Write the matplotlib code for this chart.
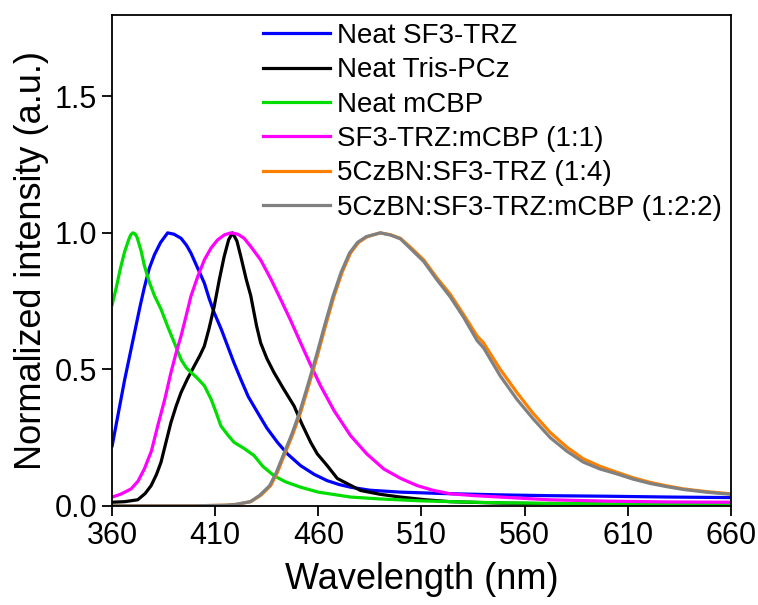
"""Normalized PL spectra of neat films and blends (recreated from figure)."""
import matplotlib
matplotlib.use("Agg")
import matplotlib.pyplot as plt

plt.rcParams["font.family"] = ["Liberation Sans", "DejaVu Sans"]

# --- data (wavelength nm, normalized intensity) ---
sf3_wl = [360, 363, 366, 368.5, 371, 373.5, 375.6, 378, 380.5, 383.5, 386.9, 390,
          393.4, 396, 398.2, 401.5, 404.7, 407, 409.5, 413, 416, 419, 422.4, 426,
          430.5, 435, 440.2, 445, 451.4, 458, 464.3, 470, 475.6, 485, 499.8, 520,
          548, 572, 600, 630, 660]
sf3_int = [0.22, 0.34, 0.46, 0.55, 0.64, 0.73, 0.80, 0.87, 0.92, 0.965, 1.0, 0.995,
           0.98, 0.955, 0.926, 0.87, 0.816, 0.76, 0.707, 0.645, 0.585, 0.525, 0.463,
           0.40, 0.342, 0.285, 0.232, 0.19, 0.147, 0.115, 0.092, 0.078, 0.068, 0.057,
           0.05, 0.045, 0.04, 0.037, 0.035, 0.032, 0.03]

tris_wl = [360, 366, 372.4, 376, 378.9, 381.5, 383.7, 386, 388.5, 391, 393.4, 396.5,
           399.8, 402.5, 404.7, 407, 409.5, 412, 414.3, 416.5, 418.4, 420.5, 422.4,
           425, 427.2, 430, 432, 435, 438.5, 443, 448.2, 452, 456.3, 459.5, 464.3,
           469.2, 475.6, 480.5, 490, 499.8, 512, 524, 548, 580, 620, 660]
tris_int = [0.013, 0.015, 0.022, 0.045, 0.074, 0.115, 0.16, 0.23, 0.305, 0.365, 0.415,
            0.465, 0.512, 0.55, 0.585, 0.65, 0.731, 0.83, 0.913, 0.975, 1.0, 0.97,
            0.913, 0.83, 0.77, 0.66, 0.597, 0.54, 0.488, 0.43, 0.366, 0.30, 0.232,
            0.19, 0.147, 0.10, 0.075, 0.056, 0.042, 0.032, 0.022, 0.015, 0.01,
            0.007, 0.005, 0.004]

mcbp_wl = [360, 362, 364, 366, 368, 369, 370, 371, 372, 374, 375.6, 378, 380.5, 383.7,
           387, 390, 393.4, 396, 398.2, 401, 404.7, 408, 410.5, 412.7, 416, 419.2, 424,
           428.8, 433, 438.5, 444, 451.4, 460, 475.6, 490, 510, 540, 570, 600, 630, 660]
mcbp_int = [0.737, 0.80, 0.87, 0.93, 0.975, 0.993, 1.0, 0.997, 0.985, 0.935, 0.88, 0.82,
            0.77, 0.72, 0.655, 0.60, 0.536, 0.505, 0.489, 0.47, 0.44, 0.39, 0.34, 0.293,
            0.26, 0.232, 0.21, 0.184, 0.145, 0.11, 0.088, 0.068, 0.05, 0.032, 0.025,
            0.018, 0.012, 0.009, 0.007, 0.006, 0.005]

blend_wl = [360, 364, 369.2, 372.5, 375.6, 379, 382.1, 385.5, 388.5, 391, 393.4, 396,
            398.2, 401.5, 404.7, 408, 411.1, 414.5, 417.6, 421, 424, 427.2, 432, 437,
            441.8, 446.5, 451.4, 456, 461.1, 467.5, 475.6, 483.5, 491.7, 500, 507.9,
            516, 524, 536, 548, 572, 600, 630, 660]
blend_int = [0.032, 0.042, 0.062, 0.09, 0.135, 0.2, 0.293, 0.39, 0.488, 0.56, 0.622,
             0.70, 0.768, 0.84, 0.901, 0.945, 0.974, 0.993, 1.0, 0.995, 0.98, 0.95,
             0.901, 0.83, 0.755, 0.68, 0.597, 0.52, 0.439, 0.35, 0.257, 0.19, 0.135,
             0.10, 0.074, 0.056, 0.044, 0.037, 0.032, 0.022, 0.017, 0.014, 0.013]

czbn_wl = [360, 400, 415, 420, 427.2, 432, 436.9, 440, 443.4, 447.5, 451.4, 455.5,
           459.5, 463.5, 467.6, 471.5, 475.6, 479.5, 483.7, 490.1, 495, 499.8, 505,
           511.1, 517.5, 524, 530.5, 537, 540.1, 548.2, 556.3, 564, 572.4, 580.5,
           588.5, 596.5, 604.7, 612.5, 620.8, 629, 636.9, 648, 660]
czbn_int = [0.0, 0.0, 0.002, 0.005, 0.015, 0.038, 0.074, 0.12, 0.184, 0.26, 0.342,
            0.445, 0.549, 0.66, 0.768, 0.855, 0.926, 0.965, 0.986, 1.0, 0.993, 0.98,
            0.945, 0.901, 0.835, 0.775, 0.70, 0.622, 0.597, 0.5, 0.415, 0.34, 0.269,
            0.215, 0.172, 0.145, 0.123, 0.103, 0.086, 0.073, 0.062, 0.052, 0.044]

tern_wl = [360, 400, 415, 420, 427, 431.5, 436.4, 439.5, 442.9, 447, 450.9, 455,
           459, 463, 467.1, 471, 475.1, 479, 483.2, 490, 495, 499.8, 505, 511.1,
           517.5, 524, 530.5, 537, 540.1, 548.2, 556.3, 564, 572.4, 580.5, 588.5,
           596.5, 604.7, 612.5, 620.8, 629, 636.9, 648, 660]
tern_int = [0.0, 0.0, 0.002, 0.005, 0.015, 0.038, 0.074, 0.12, 0.184, 0.26, 0.342,
            0.445, 0.549, 0.66, 0.768, 0.855, 0.926, 0.965, 0.986, 1.0, 0.992, 0.978,
            0.94, 0.895, 0.828, 0.765, 0.69, 0.605, 0.579, 0.476, 0.39, 0.32, 0.25,
            0.20, 0.16, 0.135, 0.117, 0.098, 0.082, 0.07, 0.06, 0.05, 0.042]

labels = ["Neat SF3-TRZ", "Neat Tris-PCz", "Neat mCBP", "SF3-TRZ:mCBP (1:1)",
          "5CzBN:SF3-TRZ (1:4)", "5CzBN:SF3-TRZ:mCBP (1:2:2)"]
colors = ["#0000ff", "#000000", "#00dd00", "#ff00ff", "#ff8000", "#808080"]
xticks = [360, 410, 460, 510, 560, 610, 660]
yticks = [0.0, 0.5, 1.0, 1.5]

series = [(sf3_wl, sf3_int), (tris_wl, tris_int), (mcbp_wl, mcbp_int),
          (blend_wl, blend_int), (czbn_wl, czbn_int), (tern_wl, tern_int)]

fig = plt.figure(figsize=(7.58, 6.05), dpi=100)
ax = fig.add_axes([0.148, 0.164, 0.816, 0.812])
for (wl, it), lab, c in zip(series, labels, colors):
    ax.plot(wl, it, color=c, lw=2.3, label=lab)

ax.set_xlim(360, 660)
ax.set_ylim(0, 1.8)
ax.set_xticks(xticks)
ax.set_yticks(yticks)
ax.set_yticklabels([f"{v:.1f}" for v in yticks])
ax.tick_params(direction="out", length=7, width=1.3, labelsize=22, pad=4)
for s in ax.spines.values():
    s.set_linewidth(1.3)
ax.set_xlabel("Wavelength (nm)", fontsize=26, labelpad=8)
ax.set_ylabel("Normalized intensity (a.u.)", fontsize=26, labelpad=4)

ax.legend(loc="upper left", bbox_to_anchor=(0.347, 0.962), bbox_transform=fig.transFigure,
          frameon=False, fontsize=20, handlelength=2.4, handletextpad=0.25,
          labelspacing=0.3, borderpad=0, borderaxespad=0)

fig.savefig("out.png", dpi=100)
